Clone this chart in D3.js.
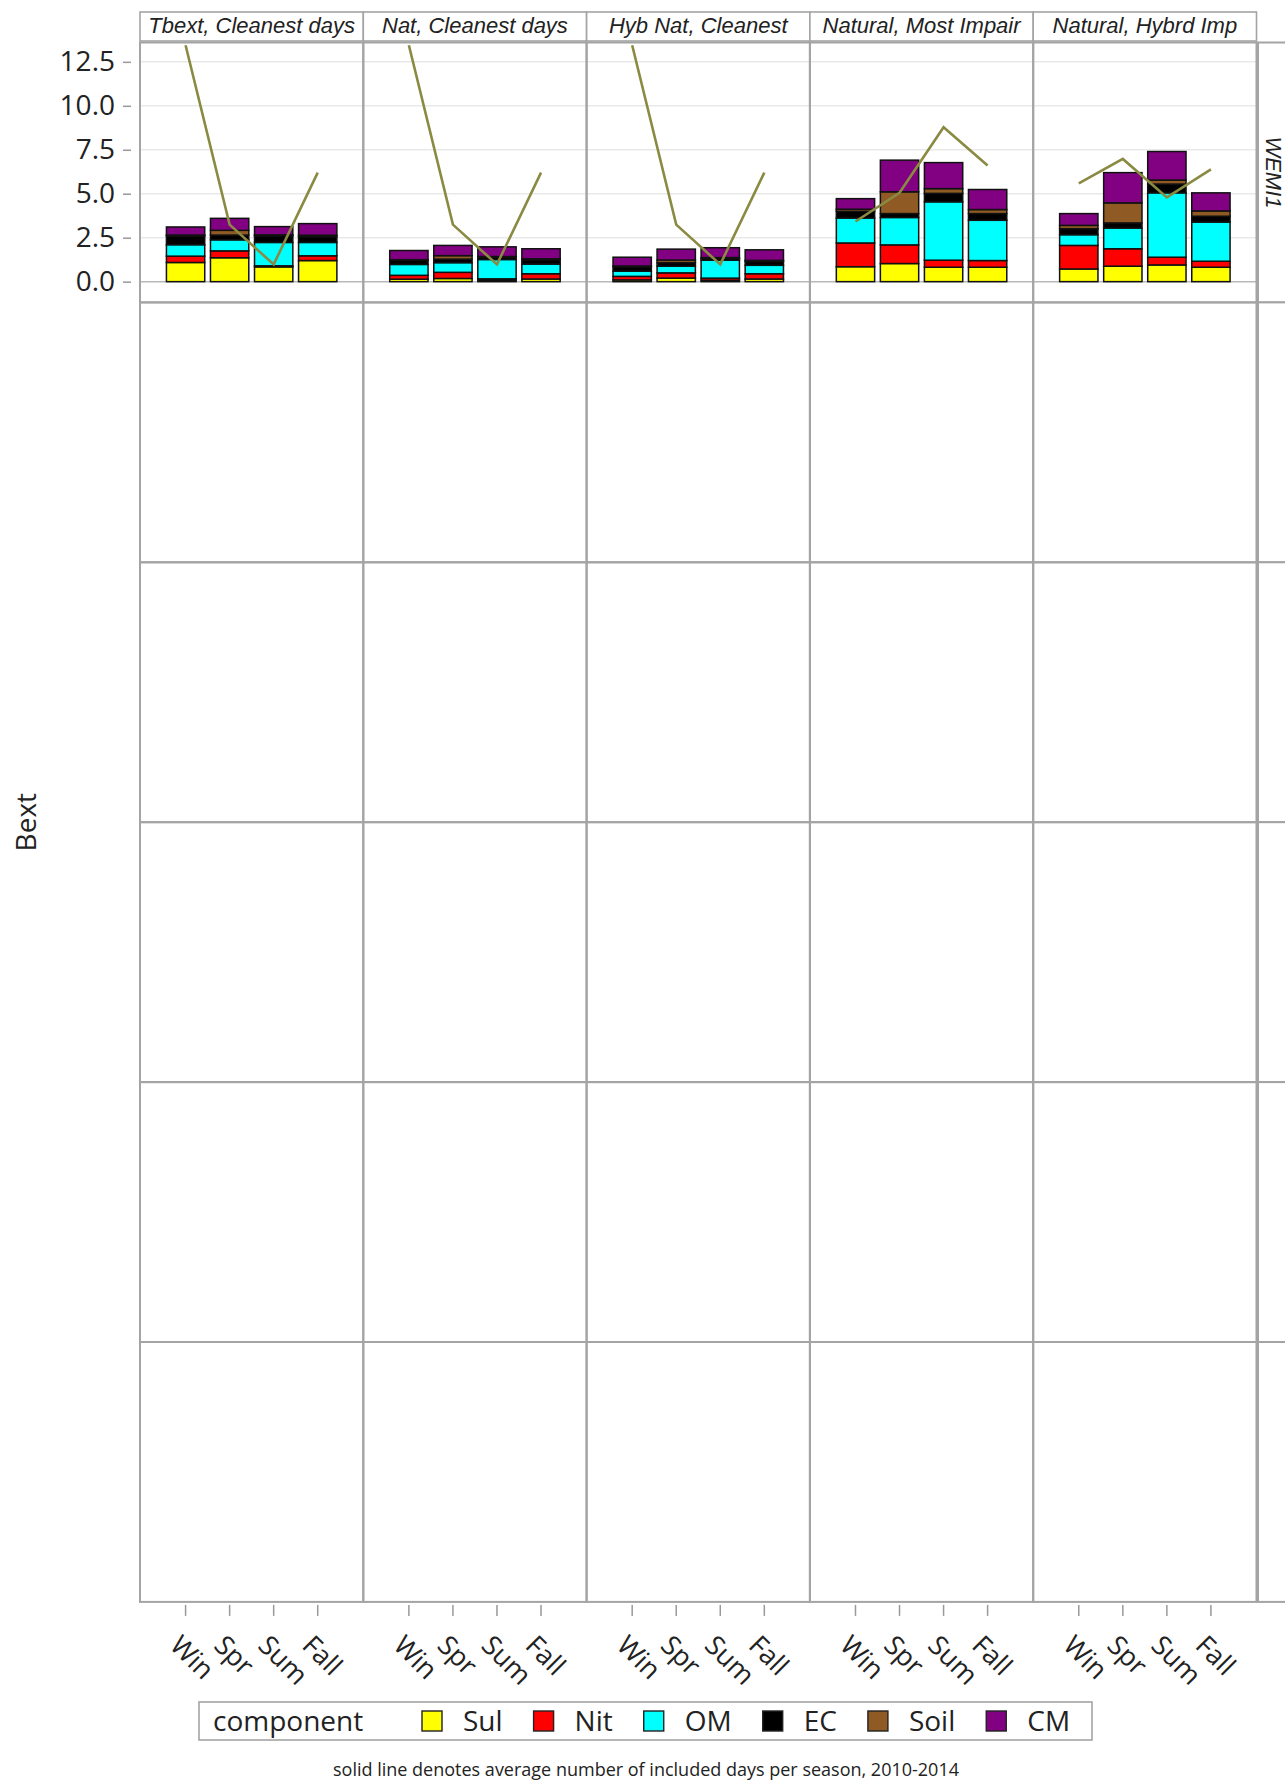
<!DOCTYPE html>
<html>
<head>
<meta charset="utf-8">
<script src="https://cdn.jsdelivr.net/npm/d3@7"></script>
<style>
  body { margin: 0; background: #fff; }
  svg { display: block; }
</style>
</head>
<body>
<script>
// ---- data -------------------------------------------------------------
const seasons = ["Win", "Spr", "Sum", "Fall"];
const panels = ["Tbext, Cleanest days", "Nat, Cleanest days", "Hyb Nat, Cleanest",
                "Natural, Most Impair", "Natural, Hybrd Imp"];
const siteLabel = "WEMI1";
const components = ["Sul", "Nit", "OM", "EC", "Soil", "CM"];
const componentColors = ["#ffff00", "#ff0000", "#00ffff", "#000000", "#8f5a24", "#820082"];

// light extinction by component; one row per panel, columns Win, Spr, Sum, Fall
const sul  = [[1.09, 1.36, 0.84, 1.20], [0.14, 0.18, 0.08, 0.15], [0.10, 0.20, 0.08, 0.15],
              [0.85, 1.03, 0.82, 0.82], [0.72, 0.88, 0.95, 0.82]];
const nit  = [[0.36, 0.39, 0.06, 0.27], [0.22, 0.35, 0.08, 0.30], [0.20, 0.30, 0.12, 0.30],
              [1.35, 1.06, 0.40, 0.38], [1.34, 0.99, 0.44, 0.34]];
const om   = [[0.65, 0.63, 1.33, 0.76], [0.62, 0.55, 1.10, 0.55], [0.30, 0.38, 1.02, 0.48],
              [1.42, 1.56, 3.32, 2.29], [0.61, 1.18, 3.66, 2.23]];
const ec   = [[0.50, 0.27, 0.38, 0.33], [0.24, 0.20, 0.12, 0.25], [0.25, 0.20, 0.10, 0.22],
              [0.38, 0.22, 0.48, 0.38], [0.34, 0.29, 0.50, 0.33]];
const soil = [[0.05, 0.27, 0.05, 0.08], [0.03, 0.20, 0.05, 0.05], [0.04, 0.15, 0.05, 0.06],
              [0.12, 1.24, 0.27, 0.23], [0.19, 1.14, 0.23, 0.30]];
const cm   = [[0.46, 0.68, 0.47, 0.66], [0.52, 0.58, 0.55, 0.57], [0.50, 0.62, 0.56, 0.60],
              [0.60, 1.80, 1.48, 1.14], [0.67, 1.72, 1.62, 1.03]];

// average number of included days per season (solid line)
const daysPerSeason = [[13.44, 3.24, 0.98, 6.20], [13.44, 3.24, 0.98, 6.20], [13.44, 3.24, 0.98, 6.20],
                       [3.42, 5.05, 8.78, 6.60], [5.59, 6.98, 4.79, 6.39]];

const yTicks = [0, 2.5, 5, 7.5, 10, 12.5];
const axisTitle = "Bext";
const legendTitle = "component";
const footnote = "solid line denotes average number of included days per season, 2010-2014";

// ---- layout -----------------------------------------------------------
const W = 1285, H = 1780;
const gridLeft = 140, colW = 223.3, gridTop = 42.5, rowH = 259.9, nRows = 6;
const gridRight = gridLeft + colW * panels.length;
const gridBottom = gridTop + rowH * nRows;
const sansFont = "'Open Sans', 'DejaVu Sans', sans-serif";
const headFont = "'Liberation Sans', Arial, sans-serif";
const frameColor = "#a4a4a4";
const textColor = "#222";

const svg = d3.select("body").append("svg")
  .attr("width", W).attr("height", H)
  .attr("font-family", sansFont);

const x = d3.scaleBand().domain(seasons).range([0, colW])
  .paddingInner(0.13).paddingOuter(0.6);
const y = d3.scaleLinear().domain([-1.18, 13.6]).range([gridTop + rowH, gridTop]);

const seriesByComponent = { Sul: sul, Nit: nit, OM: om, EC: ec, Soil: soil, CM: cm };
const color = d3.scaleOrdinal().domain(components).range(componentColors);

// ---- panel backgrounds and grid ---------------------------------------
for (let r = 0; r < nRows; r++) {
  for (let c = 0; c < panels.length; c++) {
    svg.append("rect")
      .attr("x", gridLeft + c * colW).attr("y", gridTop + r * rowH)
      .attr("width", colW).attr("height", rowH)
      .attr("fill", "#fff");
  }
}

// horizontal gridlines in the data row
panels.forEach((p, c) => {
  const gx = gridLeft + c * colW;
  svg.append("g").selectAll("line").data(yTicks).join("line")
    .attr("x1", gx).attr("x2", gx + colW)
    .attr("y1", d => y(d)).attr("y2", d => y(d))
    .attr("stroke", d => d === 0 ? "#b9b9b9" : "#e9e9e9")
    .attr("stroke-width", 1.5);
});

// ---- stacked bars and day-count line ----------------------------------
const stack = d3.stack().keys(components);
const dayLine = d3.line().x(d => d.x).y(d => y(d.v));

panels.forEach((p, c) => {
  const gx = gridLeft + c * colW;
  const rows = seasons.map((s, i) => {
    const o = { season: s };
    components.forEach(k => { o[k] = seriesByComponent[k][c][i]; });
    return o;
  });
  const layers = stack(rows);
  const g = svg.append("g").attr("transform", `translate(${gx},0)`);
  g.selectAll("g.layer").data(layers).join("g")
    .attr("class", "layer")
    .attr("fill", d => color(d.key))
    .selectAll("rect").data(d => d).join("rect")
      .attr("x", d => x(d.data.season))
      .attr("width", x.bandwidth())
      .attr("y", d => y(d[1]))
      .attr("height", d => y(d[0]) - y(d[1]))
      .attr("stroke", "#111")
      .attr("stroke-width", 1.5);

  const pts = seasons.map((s, i) => ({ x: gx + x(s) + x.bandwidth() / 2, v: daysPerSeason[c][i] }));
  svg.append("path").datum(pts)
    .attr("d", dayLine)
    .attr("fill", "none")
    .attr("stroke", "#8a8a42")
    .attr("stroke-width", 2.6)
    .attr("stroke-linejoin", "miter");
});

// ---- frames -----------------------------------------------------------
for (let r = 0; r < nRows; r++) {
  for (let c = 0; c < panels.length; c++) {
    svg.append("rect")
      .attr("x", gridLeft + c * colW).attr("y", gridTop + r * rowH)
      .attr("width", colW).attr("height", rowH)
      .attr("fill", "none").attr("stroke", frameColor).attr("stroke-width", 2);
  }
  // row strip on the right
  svg.append("rect")
    .attr("x", gridRight + 1.5).attr("y", gridTop + r * rowH)
    .attr("width", 60).attr("height", rowH)
    .attr("fill", "#fff").attr("stroke", frameColor).attr("stroke-width", 2);
}
svg.append("text")
  .attr("transform", `translate(${gridRight + 17},${gridTop + rowH / 2}) rotate(90)`)
  .attr("text-anchor", "middle").attr("dy", "0.35em")
  .attr("font-family", headFont).attr("font-style", "italic")
  .attr("font-size", 22).attr("fill", textColor)
  .text(siteLabel);

// column headers
panels.forEach((p, c) => {
  const gx = gridLeft + c * colW;
  svg.append("rect")
    .attr("x", gx).attr("y", 12).attr("width", colW).attr("height", 29)
    .attr("fill", "#fff").attr("stroke", frameColor).attr("stroke-width", 1.6);
  svg.append("text")
    .attr("x", gx + colW / 2).attr("y", 33)
    .attr("text-anchor", "middle")
    .attr("font-family", headFont).attr("font-style", "italic")
    .attr("font-size", 22).attr("fill", textColor)
    .text(p);
});

// ---- axes -------------------------------------------------------------
const yAxis = d3.axisLeft(y).tickValues(yTicks).tickFormat(d3.format(".1f"))
  .tickSize(8).tickPadding(8);
svg.append("g").attr("transform", "translate(131,0)").call(yAxis)
  .call(g => g.select(".domain").remove())
  .call(g => g.selectAll(".tick line").attr("stroke", "#999").attr("stroke-width", 1.5))
  .call(g => g.selectAll(".tick text").attr("font-family", sansFont)
    .attr("font-size", 28).attr("fill", textColor));

svg.append("text")
  .attr("transform", `translate(36,${(gridTop + gridBottom) / 2}) rotate(-90)`)
  .attr("text-anchor", "middle")
  .attr("font-size", 28).attr("fill", textColor)
  .text(axisTitle);

panels.forEach((p, c) => {
  const gx = gridLeft + c * colW;
  const xAxis = d3.axisBottom(x).tickSize(11).tickPadding(0);
  svg.append("g").attr("transform", `translate(${gx},${gridBottom + 3})`).call(xAxis)
    .call(g => g.select(".domain").remove())
    .call(g => g.selectAll(".tick line").attr("stroke", "#999").attr("stroke-width", 1.5))
    .call(g => g.selectAll(".tick text")
      .attr("font-family", sansFont).attr("font-size", 27).attr("fill", textColor)
      .attr("text-anchor", "start").attr("x", 0).attr("y", 0).attr("dy", 0)
      .attr("transform", "translate(-17,42) rotate(45)"));
});

// ---- legend -----------------------------------------------------------
const legend = svg.append("g");
legend.append("rect")
  .attr("x", 199).attr("y", 1702).attr("width", 893).attr("height", 38)
  .attr("fill", "#fff").attr("stroke", frameColor).attr("stroke-width", 1.6);
const legendMid = 1721;
legend.append("text")
  .attr("x", 213).attr("y", legendMid).attr("dy", "0.35em")
  .attr("font-size", 28).attr("fill", textColor).text(legendTitle);
let lx = 422;
components.forEach(k => {
  legend.append("rect")
    .attr("x", lx).attr("y", legendMid - 10).attr("width", 20).attr("height", 20)
    .attr("fill", color(k)).attr("stroke", "#222").attr("stroke-width", 1.4);
  const t = legend.append("text")
    .attr("x", lx + 41).attr("y", legendMid).attr("dy", "0.35em")
    .attr("font-size", 28).attr("fill", textColor).text(k);
  lx = lx + 41 + t.node().getComputedTextLength() + 31;
});

// ---- footnote ---------------------------------------------------------
svg.append("text")
  .attr("x", 646).attr("y", 1776)
  .attr("text-anchor", "middle")
  .attr("font-size", 18).attr("fill", textColor)
  .text(footnote);
</script>
</body>
</html>
